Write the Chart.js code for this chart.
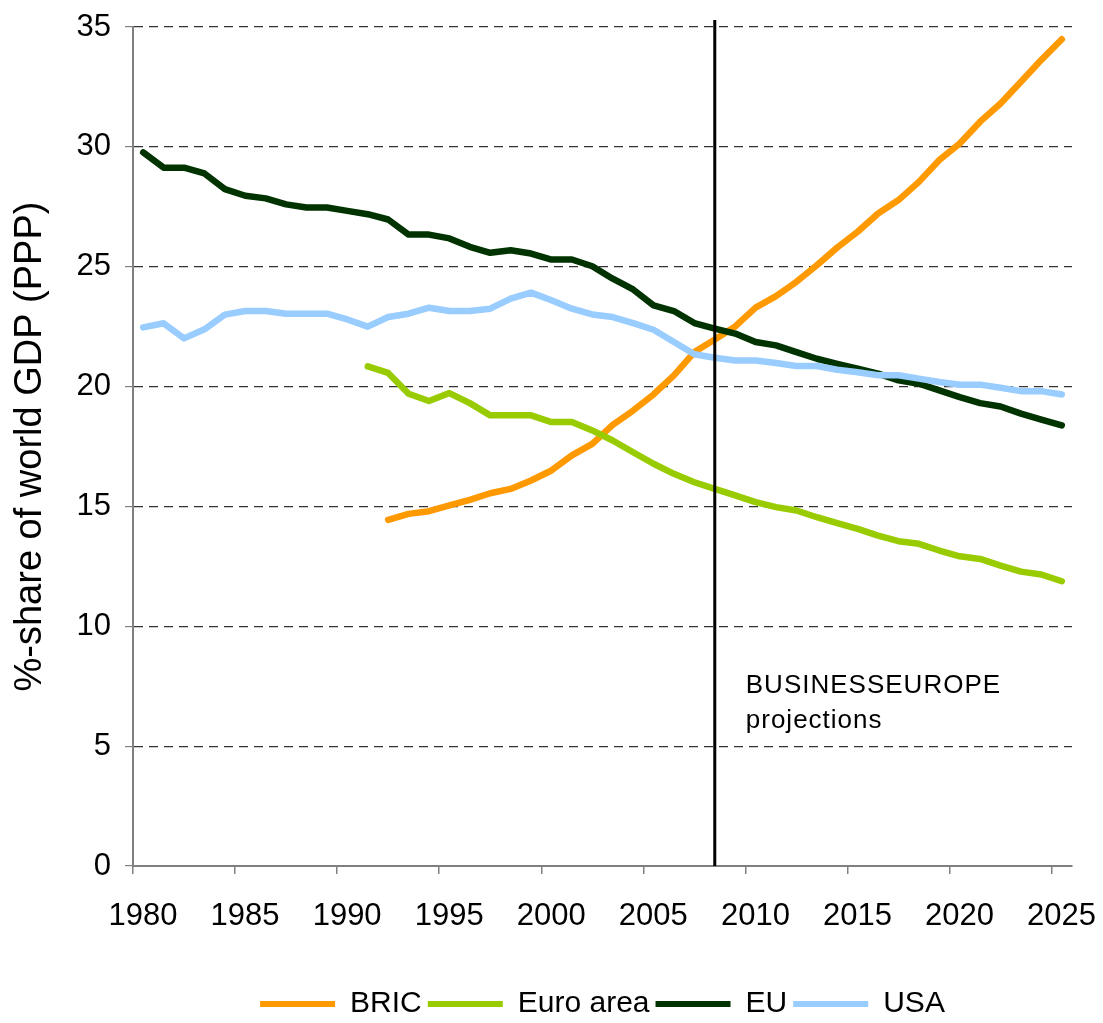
<!DOCTYPE html>
<html>
<head>
<meta charset="utf-8">
<script src="https://cdn.jsdelivr.net/npm/chart.js@4"></script>
<style>
  body { margin: 0; background: #fff; }
  #wrap { width: 1103px; height: 1023px; }
</style>
</head>
<body>
<div id="wrap"><canvas id="mychart" width="1103" height="1023"></canvas></div>
<script>
// years (categories)
const years = [1980, 1981, 1982, 1983, 1984, 1985, 1986, 1987, 1988, 1989,
  1990, 1991, 1992, 1993, 1994, 1995, 1996, 1997, 1998, 1999,
  2000, 2001, 2002, 2003, 2004, 2005, 2006, 2007, 2008, 2009,
  2010, 2011, 2012, 2013, 2014, 2015, 2016, 2017, 2018, 2019,
  2020, 2021, 2022, 2023, 2024, 2025];

// %-share of world GDP (PPP)
const bric = [null, null, null, null, null, null, null, null, null, null,
  null, null, 14.44, 14.69, 14.8, 15.04, 15.27, 15.55, 15.73, 16.08,
  16.5, 17.13, 17.61, 18.4, 19.0, 19.67, 20.47, 21.44, 21.96, 22.51,
  23.29, 23.77, 24.37, 25.06, 25.8, 26.46, 27.22, 27.78, 28.54, 29.45,
  30.14, 31.05, 31.81, 32.72, 33.63, 34.49];
const euroArea = [null, null, null, null, null, null, null, null, null, null,
  null, 20.84, 20.57, 19.7, 19.4, 19.73, 19.31, 18.8, 18.8, 18.8,
  18.52, 18.52, 18.17, 17.75, 17.26, 16.78, 16.36, 16.01, 15.73, 15.46,
  15.18, 14.97, 14.83, 14.55, 14.3, 14.06, 13.78, 13.55, 13.44, 13.16,
  12.92, 12.81, 12.53, 12.28, 12.16, 11.88];
const eu = [29.77, 29.13, 29.13, 28.89, 28.24, 27.96, 27.85, 27.6, 27.47, 27.47,
  27.33, 27.19, 26.97, 26.34, 26.34, 26.18, 25.83, 25.58, 25.69, 25.55,
  25.3, 25.3, 25.02, 24.5, 24.05, 23.39, 23.15, 22.65, 22.42, 22.21,
  21.86, 21.72, 21.44, 21.16, 20.95, 20.75, 20.54, 20.26, 20.12, 19.84,
  19.56, 19.31, 19.17, 18.87, 18.62, 18.38];
const usa = [22.47, 22.64, 22.01, 22.39, 23.0, 23.15, 23.15, 23.04, 23.04, 23.04,
  22.8, 22.5, 22.9, 23.04, 23.29, 23.15, 23.15, 23.25, 23.67, 23.92,
  23.6, 23.25, 23.01, 22.9, 22.65, 22.37, 21.86, 21.35, 21.2, 21.09,
  21.09, 20.98, 20.86, 20.86, 20.7, 20.6, 20.47, 20.47, 20.33, 20.19,
  20.08, 20.08, 19.95, 19.81, 19.81, 19.67];

const xTickYears = [1980, 1985, 1990, 1995, 2000, 2005, 2010, 2015, 2020, 2025];
const yTicks = [0, 5, 10, 15, 20, 25, 30, 35];
const projectionStart = 2008;
const noteLines = ['BUSINESSEUROPE', 'projections'];

const FONT = '"Liberation Sans", Arial, sans-serif';

function pts(values) {
  return years.map((yr, i) => ({ x: yr, y: values[i] }));
}

function series(label, values, color, order) {
  return {
    label: label,
    data: pts(values),
    borderColor: color,
    backgroundColor: color,
    borderWidth: 6.5,
    pointRadius: 0,
    tension: 0,
    borderCapStyle: 'round',
    borderJoinStyle: 'round',
    order: order
  };
}

// vertical line + note for the projection period
const projectionPlugin = {
  id: 'projection',
  afterLayout(chart) {
    // centre the legend under the plot area, like the original
    const lg = chart.legend;
    const d = (chart.chartArea.left + chart.chartArea.right) / 2 - (lg.left + lg.right) / 2;
    lg.left += d;
    lg.right += d;
    lg.top += 6;
    lg.bottom += 6;
  },
  afterDatasetsDraw(chart) {
    const { ctx, chartArea, scales } = chart;
    const x = scales.x.getPixelForValue(projectionStart);
    ctx.save();
    ctx.strokeStyle = '#000';
    ctx.lineWidth = 3;
    ctx.beginPath();
    ctx.moveTo(x, chartArea.top - 7);
    ctx.lineTo(x, chartArea.bottom);
    ctx.stroke();

    ctx.fillStyle = '#000';
    ctx.font = '26px ' + FONT;
    ctx.letterSpacing = '1px';
    ctx.textBaseline = 'middle';
    ctx.textAlign = 'left';
    ctx.fillText(noteLines[0], x + 31, scales.y.getPixelForValue(7.5));
    ctx.fillText(noteLines[1], x + 31, scales.y.getPixelForValue(6.05));
    ctx.restore();
  }
};

const ctx = document.getElementById('mychart').getContext('2d');
const myChart = new Chart(ctx, {
  type: 'line',
  data: {
    datasets: [
      series('BRIC', bric, '#FF9900', 4),
      series('Euro area', euroArea, '#99CC00', 3),
      series('EU', eu, '#003300', 2),
      series('USA', usa, '#99CCFF', 1)
    ]
  },
  options: {
    responsive: false,
    animation: false,
    devicePixelRatio: 1,
    layout: { padding: { left: 0, right: 31, top: 27, bottom: 0 } },
    plugins: {
      tooltip: { enabled: false },
      legend: {
        position: 'bottom',
        labels: {
          font: { family: FONT, size: 30 },
          color: '#000',
          boxWidth: 75,
          boxHeight: 6,
          padding: 6,
          generateLabels: (chart) => chart.data.datasets.map((ds, i) => ({
            text: ds.label,
            fillStyle: ds.borderColor,
            strokeStyle: ds.borderColor,
            lineWidth: 0,
            hidden: false,
            datasetIndex: i
          }))
        }
      }
    },
    scales: {
      x: {
        type: 'linear',
        min: years[0] - 0.5,
        max: years[years.length - 1] + 0.5,
        afterBuildTicks: (axis) => {
          axis.ticks = xTickYears.map(v => ({ value: v - 0.5 }));
        },
        afterFit: (s) => {
          s.height = 111;
          s.paddingLeft = 0;
          s.paddingRight = 0;
        },
        ticks: {
          callback: (v) => Math.round(v + 0.5),
          font: { family: FONT, size: 31 },
          color: '#000',
          labelOffset: 10,
          padding: 24,
          maxRotation: 0,
          autoSkip: false
        },
        grid: {
          drawOnChartArea: false,
          tickLength: 8,
          tickColor: '#808080',
          lineWidth: 1.5
        },
        border: { color: '#808080', width: 2 }
      },
      y: {
        min: 0,
        max: 35,
        afterBuildTicks: (axis) => {
          axis.ticks = yTicks.map(v => ({ value: v }));
        },
        afterFit: (s) => {
          s.width = 133;
          s.paddingTop = 0;
          s.paddingBottom = 0;
        },
        ticks: {
          font: { family: FONT, size: 31 },
          color: '#000',
          padding: 14
        },
        grid: {
          color: (c) => c.tick && c.tick.value === 0 ? 'rgba(0,0,0,0)' : '#333',
          tickBorderDash: [],
          tickColor: '#808080',
          tickLength: 8,
          lineWidth: 1.2
        },
        border: { color: '#808080', width: 2, dash: [9, 6] },
        title: {
          display: true,
          text: '%-share of world GDP (PPP)',
          font: { family: FONT, size: 38 },
          color: '#000',
          padding: { top: 8, bottom: 0 }
        }
      }
    }
  },
  plugins: [projectionPlugin]
});
</script>
</body>
</html>
